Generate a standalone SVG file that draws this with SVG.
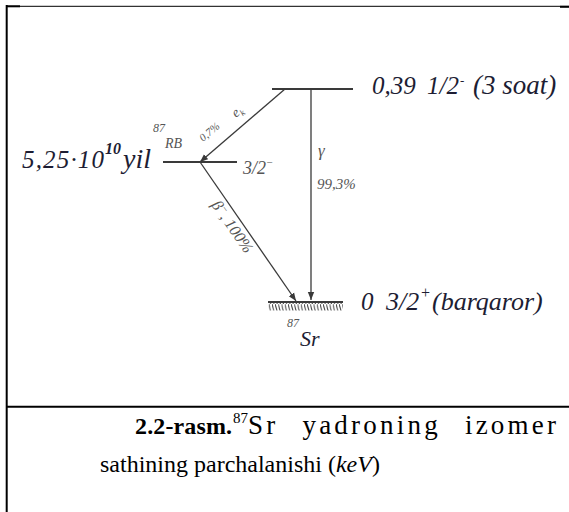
<svg xmlns="http://www.w3.org/2000/svg" width="569" height="512" viewBox="0 0 569 512">
<style>
.frame{stroke:#000;fill:none}
.lv{stroke:#3a3a3a;stroke-width:2;fill:none}
.tr{stroke:#3a3a3a;stroke-width:1.3;fill:none}
.big{font-family:"Liberation Serif",serif;font-style:italic;fill:#1d1d33}
.sm{font-family:"Liberation Serif",serif;font-style:italic;fill:#555}
.cap{font-family:"Liberation Serif",serif;fill:#000}
</style>
<defs>
<marker id="ah" viewBox="0 0 10 10" refX="10" refY="5" markerWidth="8" markerHeight="8" markerUnits="userSpaceOnUse" orient="auto">
<path d="M0,1 L10,5 L0,9 Z" fill="#3a3a3a"/>
</marker>
<pattern id="hatch" width="3.2" height="8" patternUnits="userSpaceOnUse">
<line x1="0" y1="0" x2="2" y2="8" stroke="#3a3a3a" stroke-width="1"/>
</pattern>
</defs>
<g id="frame">
<line class="frame" x1="6.7" y1="5" x2="6.7" y2="512" stroke-width="2"/>
<line class="frame" x1="6" y1="6.3" x2="569" y2="6.3" stroke-width="1"/>
<line class="frame" x1="6" y1="6.3" x2="20" y2="6.3" stroke-width="2"/>
<line class="frame" x1="560" y1="6.8" x2="569" y2="6.8" stroke-width="2"/>
<line class="frame" x1="6" y1="406.7" x2="569" y2="406.7" stroke-width="2"/>
</g>
<g id="level-039">
<line class="lv" x1="272" y1="89" x2="353" y2="89"/>
<text class="big" x="372" y="94" style="font-size:25px">0,39</text>
<text class="big" x="427" y="94" style="font-size:25px">1/2</text>
<text class="big" x="460" y="85" style="font-size:13px">-</text>
<text class="big" x="473" y="94" style="font-size:27px">(3 soat)</text>
</g>
<g id="level-rb">
<line class="lv" x1="163" y1="162" x2="237" y2="162"/>
<text class="big" x="22" y="168" style="font-size:25px" textLength="82" lengthAdjust="spacing">5,25·10</text>
<text class="big" x="105" y="154" style="font-size:16px;font-weight:bold">10</text>
<text class="big" x="123" y="168" style="font-size:28px">yil</text>
<text class="sm" x="243" y="174" style="font-size:18px">3/2<tspan style="font-size:11px" dy="-8">−</tspan></text>
<text class="sm" x="153" y="132" style="font-size:12px">87</text>
<text class="sm" x="165" y="148" style="font-size:14px">RB</text>
</g>
<g id="level-sr">
<line class="lv" x1="268" y1="302" x2="343" y2="302"/>
<rect x="268" y="302.5" width="75" height="8" fill="url(#hatch)"/>
<text class="big" x="361" y="310" style="font-size:25px">0</text>
<text class="big" x="386" y="310" style="font-size:26px">3/2</text>
<text class="big" x="420" y="298" style="font-size:16px">+</text>
<text class="big" x="432" y="310" style="font-size:26px">(barqaror)</text>
<text class="sm" x="287" y="327" style="font-size:12px">87</text>
<text class="big" x="300" y="346" style="font-size:22px">Sr</text>
</g>
<g id="connectors">
<line class="tr" x1="285" y1="89" x2="200" y2="162" marker-end="url(#ah)"/>
<line class="tr" x1="311" y1="89" x2="311" y2="300" marker-end="url(#ah)"/>
<line class="tr" x1="200" y1="162" x2="296" y2="301" marker-end="url(#ah)"/>
<text class="sm" transform="translate(236,118) rotate(-40)" style="font-size:14px">e<tspan style="font-size:9px" dy="3">k</tspan></text>
<text class="sm" transform="translate(203,142) rotate(-40)" style="font-size:11px">0,7%</text>
<text class="sm" x="318" y="156" style="font-size:17px">γ</text>
<text class="sm" x="317" y="189" style="font-size:15px">99,3%</text>
<text class="sm" transform="translate(211,205) rotate(55)" style="font-size:16px">β<tspan style="font-size:10px" dy="-6">−</tspan><tspan dy="6">, 100%</tspan></text>
</g>
<g id="caption">
<text class="cap" x="135" y="434" style="font-size:24px;font-weight:bold" textLength="97" lengthAdjust="spacing">2.2-rasm.</text>
<text class="cap" x="233" y="423" style="font-size:15px">87</text>
<text class="cap" x="248" y="434" style="font-size:27px;word-spacing:14px" textLength="308" lengthAdjust="spacing">Sr yadroning izomer</text>
<text class="cap" x="100" y="472" style="font-size:24px">sathining parchalanishi (<tspan style="font-style:italic">keV</tspan>)</text>
</g>
</svg>
